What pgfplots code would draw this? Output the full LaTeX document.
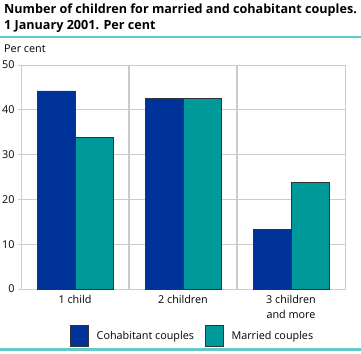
\documentclass[border=0pt]{standalone}
\usepackage{pgfplots}
\pgfplotsset{compat=1.18}
\usepackage{fontspec}
\setmainfont{Open Sans}
\definecolor{cohab}{RGB}{0,51,153}
\definecolor{married}{RGB}{0,153,153}
\definecolor{gridc}{RGB}{204,204,204}
\definecolor{rule}{RGB}{100,200,200}
\begin{document}
\begin{tikzpicture}
\useasboundingbox (0pt,0pt) rectangle (361pt,-353pt);
\node[anchor=north west,align=left,font=\bfseries\fontsize{12.6}{16}\selectfont,inner sep=0pt] at (4pt,-4pt) {Number of children for married and cohabitant couples.\\1 January 2001. Per cent};
\fill[rule] (0pt,-36pt) rectangle (361pt,-38.5pt);
\fill[rule] (0pt,-348pt) rectangle (361pt,-350.5pt);
\node[anchor=west,font=\fontsize{10.8}{12}\selectfont,inner sep=0pt] at (4pt,-49pt) {Per cent};
\begin{axis}[
  at={(21pt,-289pt)}, anchor=south west,
  width=324pt, height=224pt, scale only axis,
  xmin=-0.5, xmax=2.5, ymin=0, ymax=50,
  ybar=0pt, bar width=38pt,
  xtick={0,1,2},
  xticklabels={1 child,2 children,{3 children\\and more}},
  xticklabel style={align=center,font=\fontsize{10.8}{15}\selectfont},
  ytick={0,10,20,30,40,50},
  yticklabel style={font=\fontsize{10.8}{12}\selectfont},
  /pgf/number format/assume math mode=true,
  minor xtick={0.5,1.5}, xminorgrids,
  ymajorgrids,
  grid style={gridc, line width=1pt},
  minor grid style={gridc, line width=1.5pt},
  axis line style={gridc, line width=1pt},
  x tick style={draw=none},
  y tick style={gridc, line width=1pt},
  major tick length=3pt,
  tick align=outside,
  xtick pos=bottom, ytick pos=left,
  legend columns=2,
  legend style={draw=none, fill=none, inner sep=0pt, at={(0.151,-0.161)}, anchor=north west,
    font=\fontsize{10.8}{12}\selectfont,
    /tikz/every odd column/.append style={column sep=6pt},
    /tikz/every even column/.append style={column sep=9pt}},
  legend image code/.code={\draw[#1,draw=black!80] (0pt,-10.5pt) rectangle (18pt,10.5pt);},
  enlarge x limits=false,
]
\addplot[fill=cohab, draw=black!80, line width=0.6pt] coordinates {(0,44.2) (1,42.5) (2,13.3)};
\addplot[fill=married, draw=black!80, line width=0.6pt] coordinates {(0,33.9) (1,42.5) (2,23.8)};
\legend{Cohabitant couples,Married couples}
\end{axis}
\end{tikzpicture}
\end{document}
